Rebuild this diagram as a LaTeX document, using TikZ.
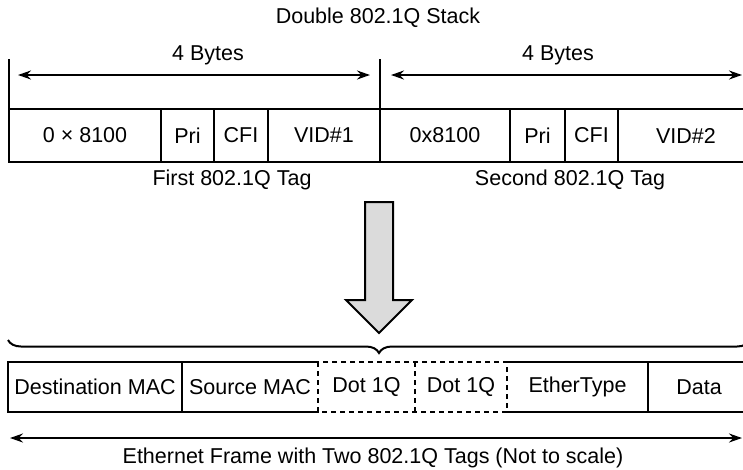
\documentclass[tikz,border=0pt]{standalone}
\usepackage{fontspec}
\setmainfont{Liberation Sans}
\usetikzlibrary{arrows.meta,decorations.pathreplacing,shapes.arrows,positioning}

\tikzset{
  cell/.style={minimum height=53pt, inner sep=0pt, outer sep=0pt},
  rule/.style={line width=2pt, line cap=rect},
  dotbox/.style={line width=2pt, dash pattern=on 5pt off 4pt},
  bytes/.style={line width=2pt, {Stealth[length=13pt,width=9pt]}-{Stealth[length=13pt,width=9pt]}},
}

\begin{document}
\begin{tikzpicture}[x=1pt, y=-1pt, font=\fontsize{21.5}{25}\selectfont, node distance=0pt]
  \clip (0,0) rectangle (743,469);

  % the two stacked tags
  \node (title) at (378,18) {Double 802.1Q Stack};
  \node[cell, minimum width=152pt, anchor=north west] (t1) at (9,109) {0 × 8100};
  \node[cell, minimum width=53pt, right=of t1] (t2) {Pri};
  \node[cell, minimum width=54pt, right=of t2] (t3) {CFI};
  \node[cell, minimum width=112pt, right=of t3] (t4) {VID\#1};
  \node[cell, minimum width=130pt, right=of t4] (t5) {0x8100};
  \node[cell, minimum width=55pt, right=of t5] (t6) {Pri};
  \node[cell, minimum width=53pt, right=of t6] (t7) {CFI};
  \node[cell, minimum width=136pt, right=of t7] (t8) {VID\#2};

  \coordinate (lefttop) at (9,60);
  \coordinate (midtop) at (380,60);
  \draw[rule] (t1.north west) -- (t8.north east) (t1.south west) -- (t8.south east);
  \draw[rule] (lefttop) -- (t1.south west);
  \draw[rule] (midtop) -- (t4.south east);
  \foreach \c in {t1,t2,t3,t5,t6,t7}
    \draw[rule] (\c.north east) -- (\c.south east);

  \coordinate (a1) at (18,75);
  \coordinate (a2) at (370,75);
  \coordinate (a3) at (391,75);
  \coordinate (a4) at (742,75);
  \draw[bytes] (a1) -- (a2);
  \draw[bytes] (a3) -- (a4);
  \node (bytes1) at (208,55) {4 Bytes};
  \node (bytes2) at (558,55) {4 Bytes};

  \node (first) at (232,180) {First 802.1Q Tag};
  \node (second) at (570,180) {Second 802.1Q Tag};

  % big arrow down
  \node[single arrow, draw, line width=2pt, fill=gray!28, rotate=-90, minimum height=131pt,
        inner xsep=0pt, inner ysep=13pt, single arrow head extend=19pt, anchor=tail] (down) at (379,201) {};

  % ethernet frame
  \coordinate (brl) at (8,340);
  \coordinate (brr) at (750,340);
  \draw[line width=2pt, decorate, decoration={brace, mirror, amplitude=13pt}] (brl) -- (brr);

  \node[cell, minimum height=50pt, minimum width=174pt, anchor=north west] (b1) at (8,362) {Destination MAC};
  \node[cell, minimum height=50pt, minimum width=136pt, right=of b1] (b2) {Source MAC};
  \node[cell, minimum height=50pt, minimum width=97pt, right=of b2] (b3) {Dot 1Q};
  \node[cell, minimum height=50pt, minimum width=92pt, right=of b3] (b4) {Dot 1Q};
  \node[cell, minimum height=50pt, minimum width=141pt, right=of b4] (b5) {EtherType};
  \node[cell, minimum height=50pt, minimum width=102pt, right=of b5] (b6) {Data};

  \draw[rule] (b2.north east) -- (b1.north west) -- (b1.south west) -- (b2.south east);
  \draw[rule] (b1.north east) -- (b1.south east);
  \draw[rule] (b5.north west) -- (b6.north east) (b5.south west) -- (b6.south east);
  \draw[rule] (b5.north east) -- (b5.south east);
  \draw[dotbox] (b3.north west) rectangle (b4.south east);
  \draw[dotbox] (b3.north east) -- (b3.south east);

  \coordinate (fl) at (10,438);
  \coordinate (fr) at (742,438);
  \draw[bytes] (fl) -- (fr);
  \node (frame) at (373,458) {Ethernet Frame with Two 802.1Q Tags (Not to scale)};
\end{tikzpicture}
\end{document}
